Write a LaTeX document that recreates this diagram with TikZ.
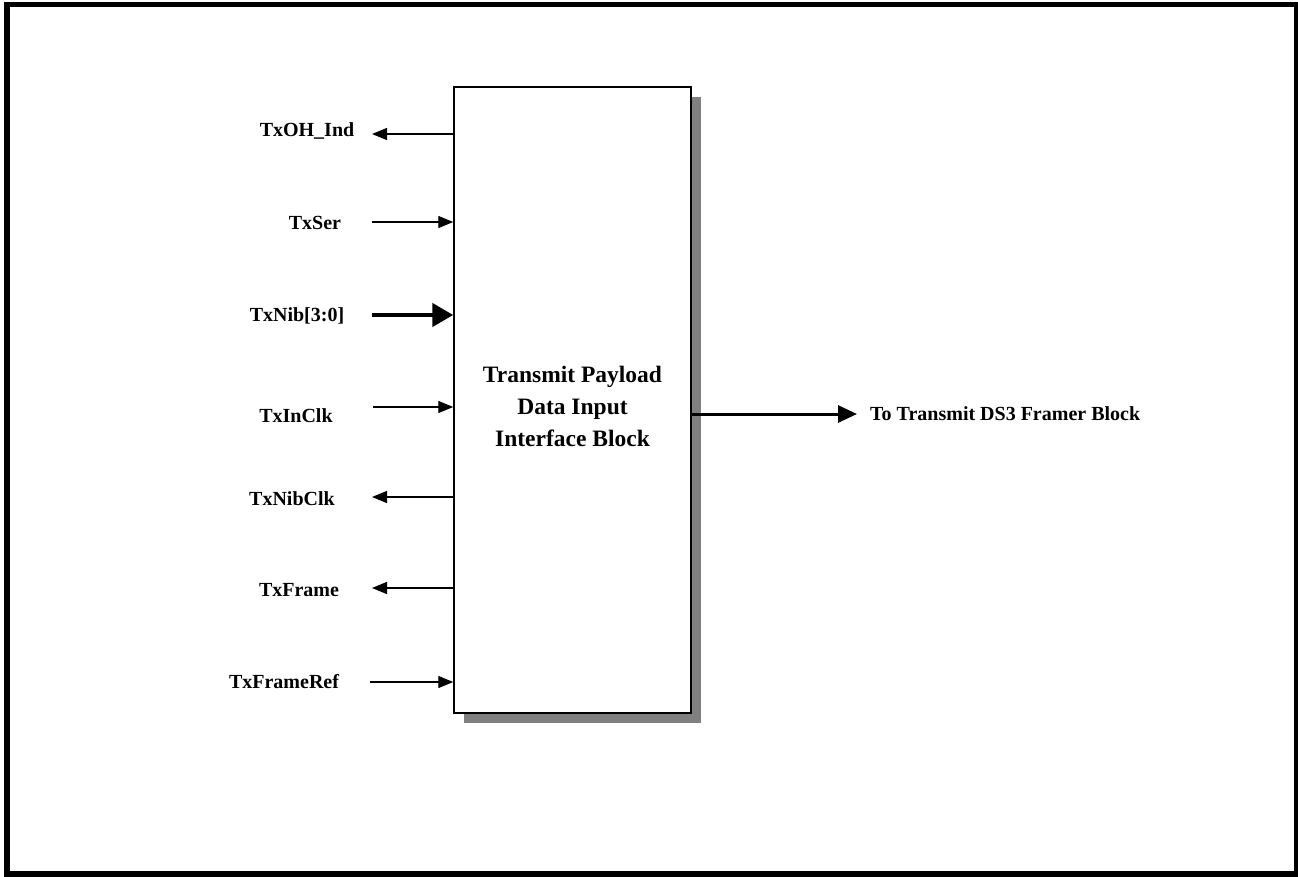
\documentclass[tikz,border=0pt]{standalone}
\usepackage{fontspec}
\setmainfont{Liberation Serif}
\usetikzlibrary{arrows.meta,positioning,shadows}

\begin{document}
\begin{tikzpicture}[
    x=1pt, y=-1pt,
    sig/.style={font=\fontsize{20}{24}\selectfont\bfseries, inner sep=0pt},
    blockbox/.style={rectangle, draw, line width=1.5pt, fill=white, minimum width=237pt, minimum height=626pt,
        align=center, font=\fontsize{23.5}{32}\selectfont\bfseries,
        drop shadow={shadow xshift=10pt, shadow yshift=-10pt, fill=black!50, opacity=1}},
    arrow/.style={-{Triangle[length=15pt,width=12pt]}, line width=1.3pt},
    bus/.style={-{Triangle[length=21pt,width=23pt]}, line width=4.5pt},
    outarrow/.style={-{Triangle[length=19pt,width=17pt]}, line width=3pt}
]
    \useasboundingbox (0,0) rectangle (1298,876);
    \draw[line width=5.5pt] (7,4.5) rectangle (1296.5,874);

    \node[blockbox] (blk) at (572.5,400) {\raisebox{-8pt}[\height][\depth]{\begin{tabular}{@{}c@{}}Transmit Payload\\Data Input\\Interface Block\end{tabular}}};

    % signal labels
    \node[sig] (ohind) at (307,131) {TxOH\_Ind};
    \node[sig] (ser) at (315,223) {TxSer};
    \node[sig] (nib) at (297,316) {TxNib[3:0]};
    \node[sig] (inclk) at (296,416) {TxInClk};
    \node[sig] (nibclk) at (292,499) {TxNibClk};
    \node[sig] (frame) at (299,590) {TxFrame};
    \node[sig] (frameref) at (284,682) {TxFrameRef};

    % outer ends of the pins
    \coordinate (ohindEnd) at (372,134);
    \coordinate (serEnd) at (372,222);
    \coordinate (nibEnd) at (372,315);
    \coordinate (inclkEnd) at (373,407);
    \coordinate (nibclkEnd) at (372,497);
    \coordinate (frameEnd) at (372,588);
    \coordinate (framerefEnd) at (370,682);

    \draw[arrow] (ohindEnd -| blk.west) -- (ohindEnd);
    \draw[arrow] (serEnd) -- (serEnd -| blk.west);
    \draw[bus] (nibEnd) -- (nibEnd -| blk.west);
    \draw[arrow] (inclkEnd) -- (inclkEnd -| blk.west);
    \draw[arrow] (nibclkEnd -| blk.west) -- (nibclkEnd);
    \draw[arrow] (frameEnd -| blk.west) -- (frameEnd);
    \draw[arrow] (framerefEnd) -- (framerefEnd -| blk.west);

    % output
    \coordinate (outEnd) at (857,414);
    \node[sig, anchor=west] (framer) at (870,414) {To Transmit DS3 Framer Block};
    \draw[outarrow] (outEnd -| blk.east) -- (outEnd);
\end{tikzpicture}
\end{document}
